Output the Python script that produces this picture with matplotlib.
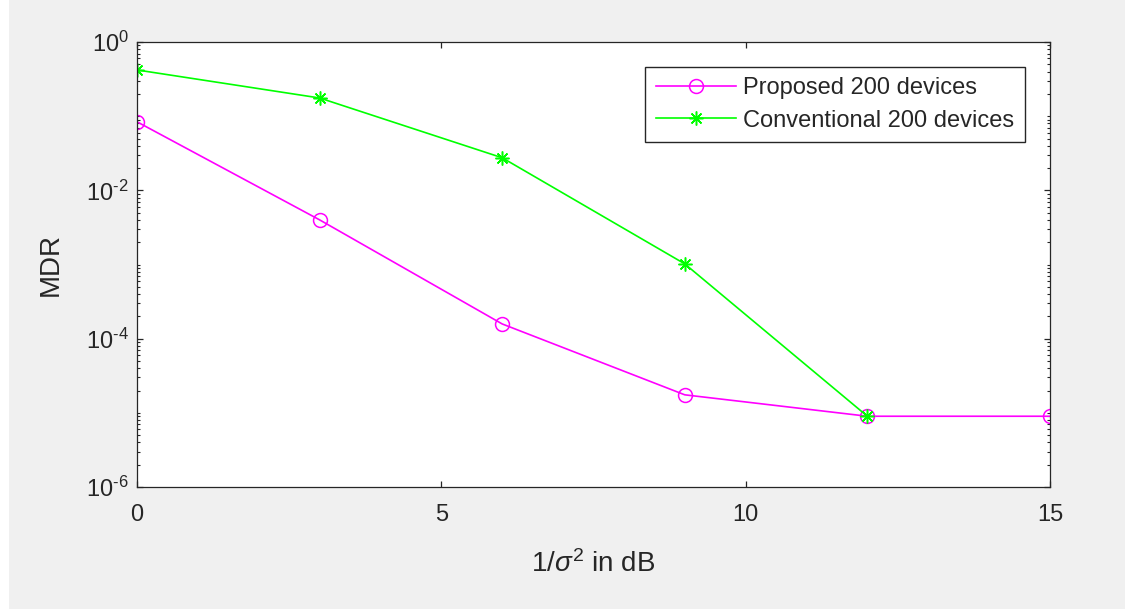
import math

import matplotlib
matplotlib.use("Agg")
import matplotlib.pyplot as plt
from matplotlib.patches import Rectangle
from matplotlib.ticker import FixedLocator, FuncFormatter, NullFormatter

plt.rcParams["font.family"] = ["Liberation Sans", "DejaVu Sans"]
plt.rcParams["mathtext.fontset"] = "custom"
plt.rcParams["mathtext.rm"] = "Liberation Sans"
plt.rcParams["mathtext.it"] = "Liberation Sans:italic"
plt.rcParams["axes.unicode_minus"] = False

# data
snr_db = [0, 3, 6, 9, 12, 15]
proposed = [0.084, 4.0e-3, 1.58e-4, 1.75e-5, 9.0e-6, 9.0e-6]
snr_conv = [0, 3, 6, 9, 12]
conventional = [0.42, 0.176, 0.0275, 1.02e-3, 9.0e-6]
y_major = [1e-6, 1e-4, 1e-2, 1e0]

TXT = "#262626"


def pow10_label(v, _pos):
    # MATLAB style 10^-n with a short hyphen
    e = int(round(math.log10(v)))
    if e < 0:
        return r"$\mathregular{10^{\text{-}%d}}$" % (-e)
    return r"$\mathregular{10^{%d}}$" % e


fig = plt.figure(figsize=(11.25, 6.09), dpi=100, facecolor="#F0F0F0")
# thin white strip on the left edge, as in the screenshot
fig.patches.append(Rectangle((0, 0), 9 / 1125, 1, transform=fig.transFigure,
                             facecolor="white", edgecolor="none", zorder=-1))
ax = fig.add_axes([0.1218, 0.2003, 0.8115, 0.7307])
ax.set_facecolor("white")

ax.plot(snr_db, proposed, color="#FF00FF", linewidth=1.2, marker="o",
        markersize=10, markerfacecolor="none", markeredgewidth=1.1,
        label="Proposed 200 devices")
ax.plot(snr_conv, conventional, color="#00FF00", linewidth=1.2, marker=(8, 2, 0),
        markersize=10, markeredgewidth=1.1, label="Conventional 200 devices")

ax.set_yscale("log")
ax.set_xlim(0, 15)
ax.set_ylim(1e-6, 1)
ax.set_xticks([0, 5, 10, 15])
ax.yaxis.set_major_locator(FixedLocator(y_major))
ax.yaxis.set_major_formatter(FuncFormatter(pow10_label))
minor = [k * 10.0 ** e for e in range(-6, 0) for k in range(1, 10)
         if not (k == 1 and e % 2 == 0)]
ax.yaxis.set_minor_locator(FixedLocator(minor))
ax.yaxis.set_minor_formatter(NullFormatter())

ax.tick_params(axis="both", which="major", direction="in", length=4, width=0.9,
               top=True, right=True, labelsize=17, colors=TXT)
ax.tick_params(axis="x", which="major", pad=12)
ax.tick_params(axis="y", which="major", pad=6)
ax.tick_params(axis="y", which="minor", direction="in", length=2.2, width=0.8,
               left=True, right=True, colors=TXT)
for sp in ax.spines.values():
    sp.set_color(TXT)
    sp.set_linewidth(0.9)

ax.set_xlabel(r"1/$\sigma^2$ in dB", fontsize=20, color=TXT, labelpad=18)
ax.set_ylabel("MDR", fontsize=20, color=TXT, labelpad=16)

leg = ax.legend(loc="upper right", fontsize=17, frameon=True, fancybox=False,
                edgecolor=TXT, framealpha=1, borderaxespad=1.05,
                handlelength=3.4, handletextpad=0.3, labelspacing=0.43,
                borderpad=0.45)
leg.get_frame().set_linewidth(1.0)
for t in leg.get_texts():
    t.set_color(TXT)

fig.savefig("out.png", dpi=100, facecolor=fig.get_facecolor())
